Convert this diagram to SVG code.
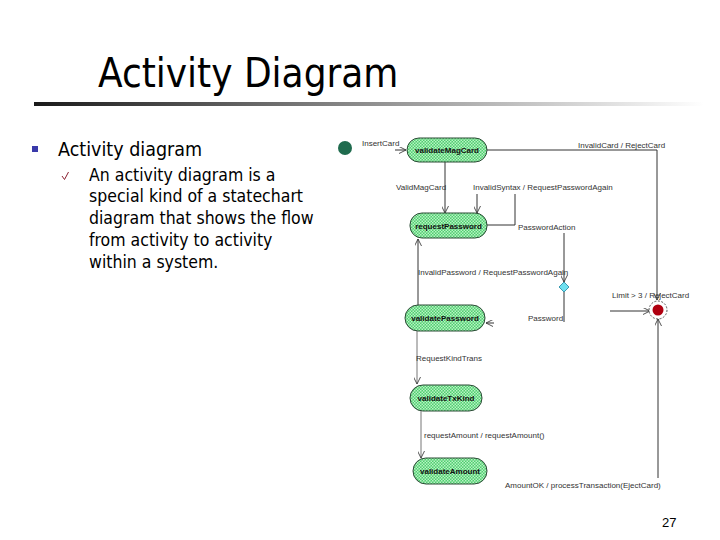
<svg xmlns="http://www.w3.org/2000/svg" width="720" height="540" viewBox="0 0 720 540">
<defs>
<linearGradient id="bar" x1="0" y1="0" x2="1" y2="0">
<stop offset="0" stop-color="#1a1a1a"/>
<stop offset="0.55" stop-color="#9a9a9a"/>
<stop offset="1" stop-color="#ffffff"/>
</linearGradient>
<pattern id="chk" width="3" height="3" patternUnits="userSpaceOnUse">
<rect width="3" height="3" fill="#4fcf6f"/>
<rect width="1.5" height="1.5" fill="#b8f2c4"/>
<rect x="1.5" y="1.5" width="1.5" height="1.5" fill="#b8f2c4"/>
</pattern>
<marker id="arr" viewBox="0 0 10 10" refX="10" refY="5" markerWidth="7" markerHeight="7" orient="auto" markerUnits="userSpaceOnUse">
<path d="M0,0 L10,5 L0,10" fill="none" stroke="#333" stroke-width="1.2"/>
</marker>
</defs>
<style>
.slide{font-family:"DejaVu Sans Condensed","DejaVu Sans",sans-serif;fill:#000}
.lbl{font-family:"Liberation Sans",Arial,sans-serif;font-size:8px;fill:#333}
.nlbl{font-family:"Liberation Sans",Arial,sans-serif;font-size:8px;fill:#111;font-weight:bold;text-anchor:middle}
.pill{fill:url(#chk);stroke:#2b4a35;stroke-width:1}
.ln{fill:none;stroke:#333;stroke-width:1}
.lg{fill:none;stroke:#777;stroke-width:1}
</style>
<rect width="720" height="540" fill="#fff"/>

<text class="slide" x="98" y="87" font-size="40">Activity Diagram</text>
<rect x="34" y="102" width="670" height="4" fill="url(#bar)"/>

<rect x="32" y="146" width="6" height="6" fill="#3a3aaa"/>
<text class="slide" x="58" y="156" font-size="19.5">Activity diagram</text>
<path d="M62,176 L64.5,179.5 L68.5,172" fill="none" stroke="#8a2030" stroke-width="1"/>
<g class="slide" font-size="17.5">
<text x="89" y="181">An activity diagram is a</text>
<text x="89" y="202">special kind of a statechart</text>
<text x="89" y="224">diagram that shows the flow</text>
<text x="89" y="246">from activity to activity</text>
<text x="89" y="268">within a system.</text>
</g>
<text x="662" y="527" font-family="Liberation Sans, Arial, sans-serif" font-size="13">27</text>

<g id="connectors">
<path class="ln" d="M395,150 L406,150" marker-end="url(#arr)"/>
<path class="ln" d="M487,150 L657,150 L657,300" marker-end="url(#arr)"/>
<path class="ln" d="M445,162 L445,213" marker-end="url(#arr)"/>
<path class="ln" d="M477,194 L477,213" marker-end="url(#arr)"/>
<path class="ln" d="M515,194 L515,225 L487,225"/>
<path class="ln" d="M564,233 L564,282" marker-end="url(#arr)"/>
<path class="ln" d="M564,292 L564,322"/>
<path class="ln" d="M494,323 L486,323" marker-end="url(#arr)"/>
<path class="ln" d="M610,311 L650,311" marker-end="url(#arr)"/>
<path class="ln" d="M418,305 L418,239" marker-end="url(#arr)"/>
<path class="lg" d="M417,331 L417,384" marker-end="url(#arr)"/>
<path class="lg" d="M421,411 L421,458" marker-end="url(#arr)"/>
<path class="ln" d="M658,478 L658,319" marker-end="url(#arr)"/>
<text class="lbl" x="362" y="146">InsertCard</text>
<text class="lbl" x="578" y="148">InvalidCard / RejectCard</text>
<text class="lbl" x="396" y="190">ValidMagCard</text>
<text class="lbl" x="473" y="190">InvalidSyntax / RequestPasswordAgain</text>
<text class="lbl" x="518" y="230">PasswordAction</text>
<text class="lbl" x="418" y="275">InvalidPassword / RequestPasswordAgain</text>
<text class="lbl" x="612" y="298">Limit &gt; 3 / RejectCard</text>
<text class="lbl" x="528" y="321">Password</text>
<text class="lbl" x="416" y="361">RequestKindTrans</text>
<text class="lbl" x="424" y="438">requestAmount / requestAmount()</text>
<text class="lbl" x="505" y="488">AmountOK / processTransaction(EjectCard)</text>
</g>

<g id="start"><circle cx="345" cy="148" r="7" fill="#1f6b4e"/></g>
<g id="validateMagCard"><rect class="pill" x="407" y="138" width="80" height="24" rx="12"/><text class="nlbl" x="447" y="153">validateMagCard</text></g>
<g id="requestPassword"><rect class="pill" x="410" y="213" width="77" height="25" rx="12"/><text class="nlbl" x="448.5" y="228.5">requestPassword</text></g>
<g id="decision"><path d="M564,282 L569,287 L564,292 L559,287 Z" fill="#6fe0f0" stroke="#3a9ab0" stroke-width="1"/></g>
<g id="end"><circle cx="658" cy="310" r="9" fill="#fff" stroke="#555" stroke-width="1" stroke-dasharray="2,1.5"/><circle cx="658" cy="310" r="5.5" fill="#b00010"/></g>
<g id="validatePassword"><rect class="pill" x="405" y="305" width="80" height="26" rx="13"/><text class="nlbl" x="445" y="321">validatePassword</text></g>
<g id="validateTxKind"><rect class="pill" x="410" y="385" width="72" height="26" rx="13"/><text class="nlbl" x="446" y="401">validateTxKind</text></g>
<g id="validateAmount"><rect class="pill" x="413" y="458" width="74" height="26" rx="13"/><text class="nlbl" x="450" y="474">validateAmount</text></g>
</svg>
